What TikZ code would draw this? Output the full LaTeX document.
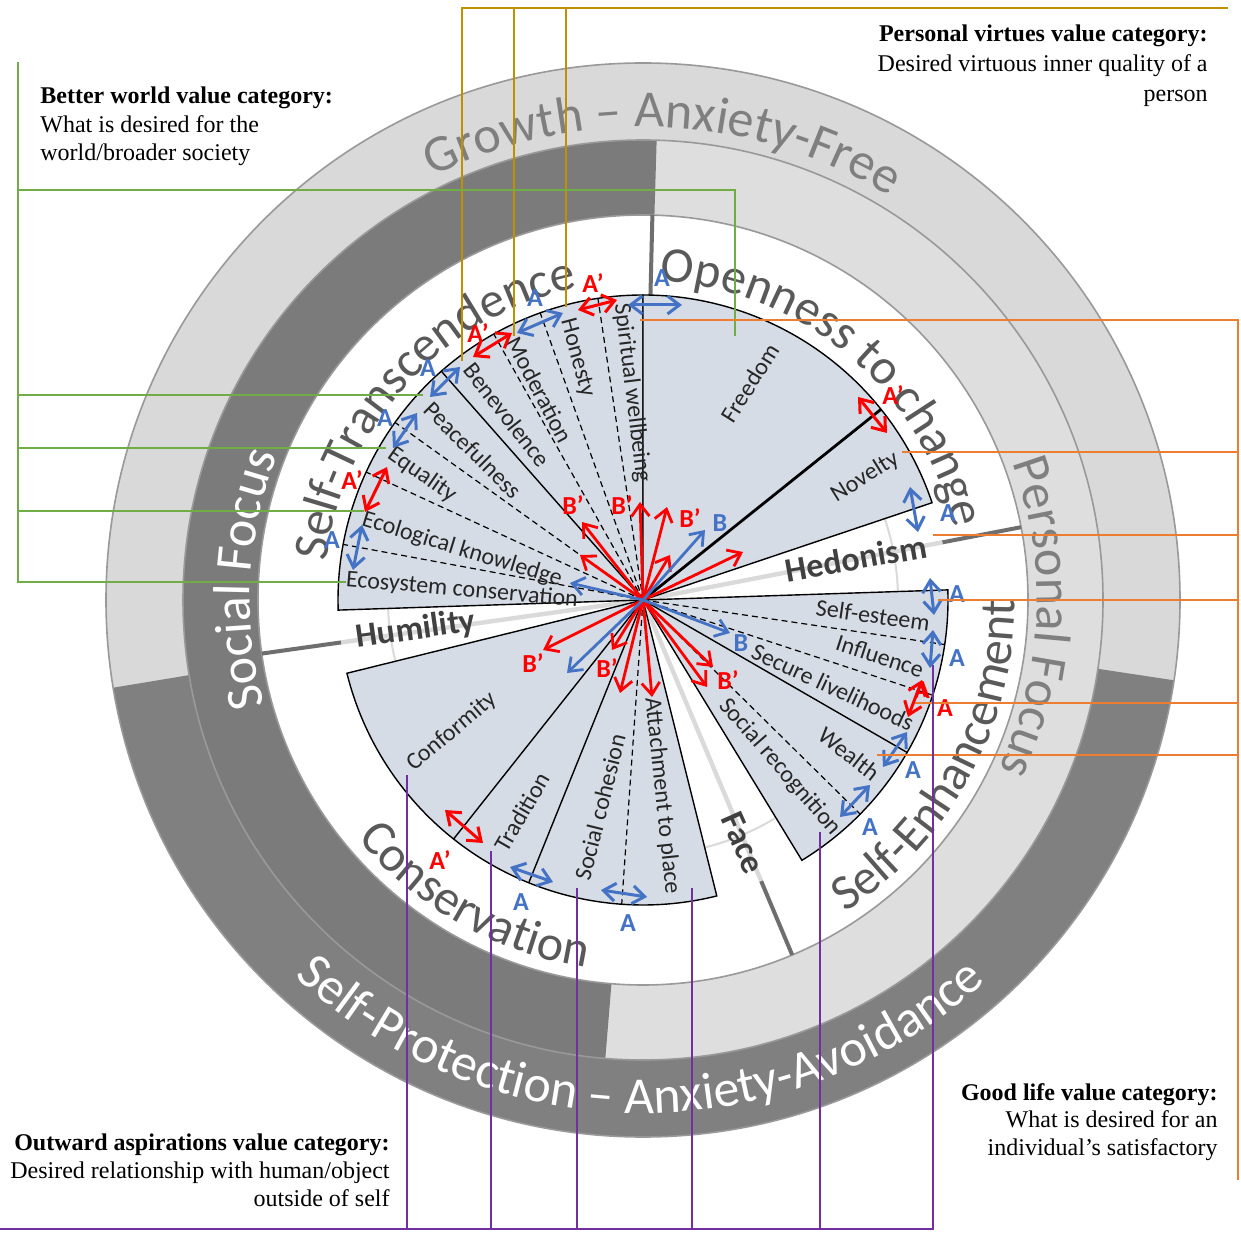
\documentclass[tikz,border=0pt]{standalone}
\usepackage{fontspec}
\setmainfont{Liberation Serif}
\newfontfamily\calfont{Carlito}
\usetikzlibrary{arrows.meta,decorations.text,calc}
\definecolor{bandlight}{HTML}{D9D9D9}
\definecolor{midlight}{HTML}{DEDEDE}
\definecolor{banddark}{HTML}{808080}
\definecolor{middark}{HTML}{7B7B7B}
\definecolor{ringline}{HTML}{999999}
\definecolor{piefill}{HTML}{D6DCE5}
\definecolor{ringtxt}{HTML}{595959}
\definecolor{wedgetxt}{HTML}{404040}
\definecolor{outtxt}{HTML}{7F7F7F}
\definecolor{labtxt}{HTML}{262626}
\definecolor{divgray}{HTML}{6E6E6E}
\definecolor{faintgray}{HTML}{DADADA}
\definecolor{bluec}{HTML}{4472C4}
\definecolor{redc}{HTML}{FF0000}
\definecolor{goldc}{HTML}{BF9000}
\definecolor{greenc}{HTML}{70AD47}
\definecolor{orangec}{HTML}{ED7D31}
\definecolor{purplec}{HTML}{7030A0}
\newcommand\ringbig{\calfont\fontsize{25}{25}\selectfont}
\newcommand\ringout{\calfont\fontsize{26}{26}\selectfont}
\begin{document}
\begin{tikzpicture}[x=0.5pt,y=0.5pt,
  >={Straight Barb[length=6pt,width=9pt]},
  pie/.style={fill=piefill, draw=black, line width=0.7pt},
  pieline/.style={draw=black, line width=0.7pt},
  piedash/.style={draw=black, line width=0.6pt, dash pattern=on 3pt off 2pt},
  divider/.style={draw=divgray, line width=2pt},
  faint/.style={draw=faintgray, line width=2.2pt},
  seclab/.style={font=\calfont\fontsize{12}{12}\selectfont, text=labtxt, inner sep=0pt},
  wedgelab/.style={font=\calfont\bfseries\fontsize{17}{17}\selectfont, text=wedgetxt, inner sep=0pt},
  alab/.style={font=\calfont\bfseries\fontsize{13}{13}\selectfont, inner sep=0pt},
  bluelab/.style={alab, text=bluec},
  redlab/.style={alab, text=redc},
  dblue/.style={draw=bluec, line width=1.5pt, <->},
  dred/.style={draw=redc, line width=1.5pt, <->},
  rray/.style={draw=redc, line width=1.4pt, ->},
  bray/.style={draw=bluec, line width=1.4pt, ->},
  goldline/.style={draw=goldc, line width=1.3pt},
  greenline/.style={draw=greenc, line width=1.3pt},
  orangeline/.style={draw=orangec, line width=1.3pt},
  purpleline/.style={draw=purplec, line width=1.3pt},
  anno/.style={font=\fontsize{12}{14}\selectfont, inner sep=0pt, text=black}
]
\path[use as bounding box] (0,0) rectangle (1241,1232);
\fill[white] (0,0) rectangle (1241,1232);
\coordinate (C) at (643,632);

% ---------- rings ----------
\fill[bandlight] (C) circle (537);
\fill[banddark] ($(C)+(189.4:537)$) arc[start angle=189.4, end angle=351.4, radius=537]
  -- ($(C)+(351.4:460)$) arc[start angle=351.4, end angle=189.4, radius=460] -- cycle;
\fill[midlight] (C) circle (460);
\fill[middark] ($(C)+(88.3:460)$) arc[start angle=88.3, end angle=265.3, radius=460]
  -- ($(C)+(265.3:385)$) arc[start angle=265.3, end angle=88.3, radius=385] -- cycle;
\fill[white] (C) circle (385);
\draw[ringline, line width=0.8pt] (C) circle (537) (C) circle (460) (C) circle (385);

% faint underlying lines in white wedges
\foreach \a in {10.9,188,-67.2} \draw[faint] (C) -- ($(C)+(\a:305)$);
\draw[faintgray, line width=1pt] (C) circle (255);
% thick dividers in the white band
\foreach \a in {88.6,10.9,188,-67.2} \draw[divider] ($(C)+(\a:305)$) -- ($(C)+(\a:385)$);

% ---------- pie ----------
\filldraw[pie] (C) -- ($(C)+(90:305)$) arc[start angle=90, end angle=181.9, radius=305] -- cycle;
\filldraw[pie] (C) -- ($(C)+(18.6:305)$) arc[start angle=18.6, end angle=90, radius=305] -- cycle;
\filldraw[pie] (C) -- ($(C)+(-58.6:305)$) arc[start angle=-58.6, end angle=1.9, radius=305] -- cycle;
\filldraw[pie] (C) -- ($(C)+(193.9:305)$) arc[start angle=193.9, end angle=284, radius=305] -- cycle;
\foreach \a in {131.4,231.6,248,-30} \draw[pieline] (C) -- ($(C)+(\a:305)$);
\draw[black, line width=1.4pt] (C) -- ($(C)+(38.7:305)$);
\foreach \a in {98.5,109.7,119.3,144.4,155.2,169.5,266,-44.6,-18.2,-8.4} \draw[piedash] (C) -- ($(C)+(\a:305)$);

% ---------- ring texts ----------
\path[decorate, decoration={text along path, text align=center, text color=outtxt,
  text={|\ringout|Growth – Anxiety-Free}}]
  ($(C)+(150:473)$) arc[start angle=150, end angle=25, radius=473];
\path[decorate, decoration={text along path, text align=center, text color=white,
  text={|\ringout|Self-Protection – Anxiety-Avoidance}}]
  ($(C)+(199.6:513)$) arc[start angle=199.6, end angle=339.6, radius=513];
\path[decorate, decoration={text along path, text align=center, text color=white,
  text={|\ringout|Social Focus}}]
  ($(C)+(220:393)$) arc[start angle=220, end angle=134, radius=393];
\path[decorate, decoration={text along path, text align=center, text color=outtxt,
  text={|\ringout|Personal Focus}}]
  ($(C)+(40:394)$) arc[start angle=40, end angle=-45, radius=394];
\path[decorate, decoration={text along path, text align=center, text color=ringtxt,
  text={|\ringbig|Self-Transcendence}}]
  ($(C)+(197.4:319)$) arc[start angle=197.4, end angle=77.4, radius=319];
\path[decorate, decoration={text along path, text align=center, text color=ringtxt,
  text={|\ringbig|Openness to change}}]
  ($(C)+(110:319)$) arc[start angle=110, end angle=-10, radius=319];
\path[decorate, decoration={text along path, text align=center, text color=ringtxt,
  text={|\ringbig|Self-Enhancement}}]
  ($(C)+(-88.5:372)$) arc[start angle=-88.5, end angle=31.5, radius=372];
\path[decorate, decoration={text along path, text align=center, text color=ringtxt,
  text={|\ringbig|Conservation}}]
  ($(C)+(180.5:372)$) arc[start angle=180.5, end angle=300.5, radius=372];

% ---------- wedge labels ----------
\node[wedgelab, rotate=10] (wHed) at (856,674) {Hedonism};
\node[wedgelab, rotate=8] (wHum) at (416,602) {Humility};
\node[wedgelab, rotate=-66] (wFace) at (743,389) {Face};

% ---------- sector labels ----------
\node[seclab, rotate=-83] (sSpi) at (632,839) {Spiritual wellbeing};
\node[seclab, rotate=-75] (sHon) at (577,874) {Honesty};
\node[seclab, rotate=-62] (sMod) at (540,842) {Moderation};
\node[seclab, rotate=-52] (sBen) at (507,817) {Benevolence};
\node[seclab, rotate=-45] (sPea) at (473,782) {Peacefulness};
\node[seclab, rotate=-35] (sEqu) at (422,757) {Equality};
\node[seclab, rotate=-17] (sEco) at (462,682) {Ecological knowledge};
\node[seclab, rotate=-5] (sEcs) at (462,642) {Ecosystem conservation};
\node[seclab, rotate=58] (sFre) at (750,849) {Freedom};
\node[seclab, rotate=32] (sNov) at (865,755) {Novelty};
\node[seclab, rotate=-8] (sSel) at (873,617) {Self-esteem};
\node[seclab, rotate=-18] (sInf) at (880,576) {Influence};
\node[seclab, rotate=-25] (sSec) at (833,545) {Secure livelihoods};
\node[seclab, rotate=-38] (sWea) at (849,478) {Wealth};
\node[seclab, rotate=-49] (sSoc) at (780,465) {Social recognition};
\node[seclab, rotate=-84] (sAtt) at (662,436) {Attachment to place};
\node[seclab, rotate=76] (sCoh) at (600,425) {Social cohesion};
\node[seclab, rotate=60] (sTra) at (522,420) {Tradition};
\node[seclab, rotate=40] (sCon) at (452,500) {Conformity};

% ---------- rays from the centre ----------
\foreach \n/\x/\y in {r1/582/710, r2/580/677, r3/640/730, r4/667/725, r5/670/677, r6/743/680,
  r7/543/582, r8/612/582, r9/620/539, r10/652/535, r11/713/565, r12/707/545}
  {\coordinate (\n) at (\x,\y); \draw[rray] (C) -- (\n);}
\foreach \n/\x/\y in {b1/705/702, b2/730/599, b3/570/649, b4/567/559}
  {\coordinate (\n) at (\x,\y); \draw[bray] (C) -- (\n);}
\node[redlab] (lB1) at (573,727) {B’};
\node[redlab] (lB2) at (622,727) {B’};
\node[redlab] (lB3) at (690,714) {B’};
\node[redlab] (lB4) at (533,569) {B’};
\node[redlab] (lB5) at (607,564) {B’};
\node[redlab] (lB6) at (728,552) {B’};
\node[bluelab] (lb1) at (720,709) {B};
\node[bluelab] (lb2) at (741,589) {B};

% ---------- rim arrows ----------
\foreach \n/\xa/\ya/\xb/\yb in {A1/628/927/682/927, A2/517/899/563/919, A3/430/835/460/865,
  A4/393/784/417/819, A5/353/662/362/707, A10/910/745/918/700, A11/930/654/934/617,
  A12/933/602/930/564, A14/907/500/883/465, A15/870/447/840/415, A16/601/342/647/335,
  A17/510/365/553/350}
  {\coordinate (\n-a) at (\xa,\ya); \coordinate (\n-b) at (\xb,\yb); \draw[dblue] (\n-a) -- (\n-b);}
\foreach \n/\xa/\ya/\xb/\yb in {R6/578/922/617/932, R7/473/875/512/899, R8/365/720/387/765,
  R9/858/835/887/799, R13/922/552/908/515, R18/445/422/483/389}
  {\coordinate (\n-a) at (\xa,\ya); \coordinate (\n-b) at (\xb,\yb); \draw[dred] (\n-a) -- (\n-b);}
\node[bluelab] (lA1) at (662,954) {A};
\node[bluelab] (lA2) at (535,934) {A};
\node[bluelab] (lA3) at (428,864) {A};
\node[bluelab] (lA4) at (385,814) {A};
\node[bluelab] (lA5) at (332,692) {A};
\node[bluelab] (lA10) at (948,719) {A};
\node[bluelab] (lA11) at (957,638) {A};
\node[bluelab] (lA12) at (957,574) {A};
\node[bluelab] (lA14) at (913,462) {A};
\node[bluelab] (lA15) at (870,405) {A};
\node[bluelab] (lA16) at (628,309) {A};
\node[bluelab] (lA17) at (521,330) {A};
\node[redlab] (lR6) at (593,949) {A’};
\node[redlab] (lR7) at (478,899) {A’};
\node[redlab] (lR8) at (352,752) {A’};
\node[redlab] (lR9) at (893,837) {A’};
\node[redlab] (lR13a) at (922,542) {A};
\node[redlab] (lR13b) at (945,524) {A};
\node[redlab] (lR18) at (440,372) {A’};

% ---------- category connectors ----------
\coordinate (gR) at (1228,1224);
\coordinate (gT1) at (462,1224); \coordinate (gB1) at (462,871);
\coordinate (gT2) at (514,1224); \coordinate (gB2) at (514,896);
\coordinate (gT3) at (566,1224); \coordinate (gB3) at (566,925);
\draw[goldline] (gR) -- (gT1) -- (gB1);
\draw[goldline] (gT2) -- (gB2);
\draw[goldline] (gT3) -- (gB3);
\coordinate (gnTop) at (18,1170); \coordinate (gnBot) at (18,650); \coordinate (gn5) at (346,650);
\coordinate (gn1L) at (18,1042); \coordinate (gn1R) at (735,1042); \coordinate (gn1) at (735,896);
\coordinate (gn2L) at (18,837); \coordinate (gn2) at (423,837);
\coordinate (gn3L) at (18,784); \coordinate (gn3) at (386,784);
\coordinate (gn4L) at (18,721); \coordinate (gn4) at (364,721);
\draw[greenline] (gnTop) -- (gnBot) -- (gn5);
\draw[greenline] (gn1L) -- (gn1R) -- (gn1);
\draw[greenline] (gn2L) -- (gn2);
\draw[greenline] (gn3L) -- (gn3);
\draw[greenline] (gn4L) -- (gn4);
\coordinate (orTop) at (1238,912); \coordinate (orBot) at (1238,52); \coordinate (or1) at (640,912);
\coordinate (or2R) at (1238,780); \coordinate (or2) at (902,780);
\coordinate (or3R) at (1238,697); \coordinate (or3) at (933,697);
\coordinate (or4R) at (1238,632); \coordinate (or4) at (938,632);
\coordinate (or5R) at (1238,529); \coordinate (or5) at (915,529);
\coordinate (or6R) at (1238,477); \coordinate (or6) at (877,477);
\draw[orangeline] (or1) -- (orTop) -- (orBot);
\draw[orangeline] (or2) -- (or2R);
\draw[orangeline] (or3) -- (or3R);
\draw[orangeline] (or4) -- (or4R);
\draw[orangeline] (or5) -- (or5R);
\draw[orangeline] (or6) -- (or6R);
\coordinate (puL) at (0,3); \coordinate (puR) at (933,3); \coordinate (pu6) at (933,567);
\draw[purpleline] (puL) -- (puR) -- (pu6);
\foreach \n/\x/\y in {pu1/407/457, pu2/491/381, pu3/577/344, pu4/692/344, pu5/820/400}
  {\coordinate (\n-b) at (\x,3); \coordinate (\n) at (\x,\y); \draw[purpleline] (\n-b) -- (\n);}

% ---------- annotations ----------
\node[anno, anchor=base west] (bw1) at (40,1128) {\bfseries Better world value category:};
\node[anno, anchor=base west] (bw2) at (40,1099) {What is desired for the};
\node[anno, anchor=base west] (bw3) at (40,1071) {world/broader society};
\node[anno, anchor=base east] (pv1) at (1208,1190) {\bfseries Personal virtues value category:};
\node[anno, anchor=base east] (pv2) at (1208,1160) {Desired virtuous inner quality of a};
\node[anno, anchor=base east] (pv3) at (1208,1130) {person};
\node[anno, anchor=base east] (gl1) at (1218,132) {\bfseries Good life value category:};
\node[anno, anchor=base east] (gl2) at (1218,105) {What is desired for an};
\node[anno, anchor=base east] (gl3) at (1218,77) {individual’s satisfactory};
\node[anno, anchor=base east] (oa1) at (390,82) {\bfseries Outward aspirations value category:};
\node[anno, anchor=base east] (oa2) at (390,54) {Desired relationship with human/object};
\node[anno, anchor=base east] (oa3) at (390,26) {outside of self};
\end{tikzpicture}
\end{document}
